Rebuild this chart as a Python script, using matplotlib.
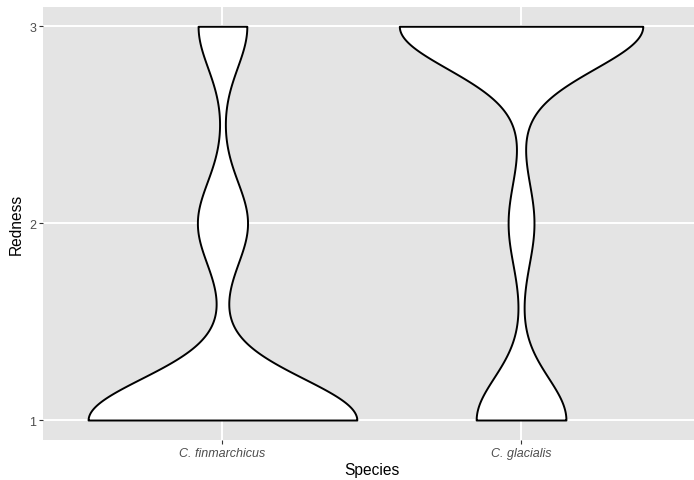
"""Violin plot of redness scores for two Calanus species (ggplot-style look)."""
import numpy as np
import matplotlib
matplotlib.use("Agg")
import matplotlib.pyplot as plt
from matplotlib import cbook

species = ["C. finmarchicus", "C. glacialis"]
redness_levels = [1, 2, 3]
counts_finmarchicus = [193, 36, 35]
counts_glacialis = [66, 19, 179]
bandwidths = [0.21, 0.215]

plt.rcParams["font.family"] = ["Liberation Sans", "DejaVu Sans"]

samples = [np.repeat(redness_levels, counts_finmarchicus),
           np.repeat(redness_levels, counts_glacialis)]


def gauss_kde(bw):
    def method(x, coords):
        x = np.asarray(x, float)
        z = (coords[:, None] - x[None, :]) / bw
        return np.exp(-0.5 * z ** 2).sum(axis=1) / (len(x) * bw * np.sqrt(2 * np.pi))
    return method


stats = []
for s, bw in zip(samples, bandwidths):
    stats += cbook.violin_stats(s, gauss_kde(bw), points=512)

# scale="area" like ggplot: widest violin gets width 0.9
gmax = max(st["vals"].max() for st in stats)
widths = [0.9 * st["vals"].max() / gmax for st in stats]

fig = plt.figure(figsize=(6.94, 4.81), dpi=100)
ax = fig.add_axes([43.3 / 694, 40.3 / 481, 656.9 / 694, 433.1 / 481])
ax.set_facecolor("#E4E4E4")

parts = ax.violin(stats, positions=[1, 2], widths=widths,
                  showmeans=False, showextrema=False, showmedians=False)
for body in parts["bodies"]:
    body.set_facecolor("white")
    body.set_edgecolor("black")
    body.set_linewidth(1.4)
    body.set_alpha(1)
    body.set_zorder(3)

ax.set_xlim(0.4, 2.6)
ax.set_ylim(0.9, 3.1)
ax.set_xticks([1, 2])
ax.set_xticklabels(species, fontstyle="italic")
ax.set_yticks([1, 2, 3])
ax.grid(True, color="white", linewidth=1.4, zorder=0)
ax.set_axisbelow(True)
for sp in ax.spines.values():
    sp.set_visible(False)
ax.tick_params(axis="both", colors="#333333", labelcolor="#4D4D4D",
               labelsize=9, length=2.8, width=0.8, pad=2.5)

ax.set_xlabel("Species", fontsize=11.2, labelpad=2)
ax.set_ylabel("Redness", fontsize=11.2, labelpad=4)

fig.savefig("out.png", dpi=100)
